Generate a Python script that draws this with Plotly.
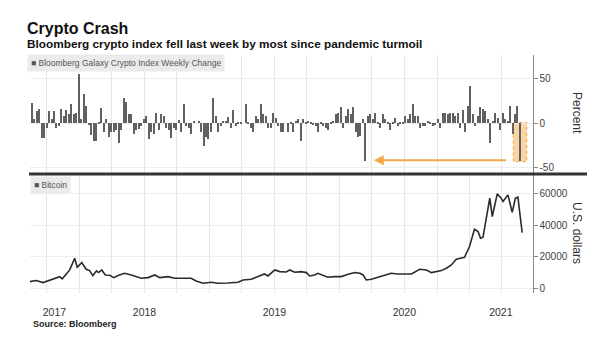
import pandas as pd
import plotly.graph_objects as go

# ---- Data ----
weekly_change = [
    23, 5, 14, 16, -16, -16, -5, 14, 5, 14,
    -5, -3, 16, 8, 15, 10, 22, 10, 12, 56,
    5, 33, 20, -2, -13, -20, -20, 1, 17, -10,
    5, -15, -10, -10, -8, -22, -8, 28, 24, 10,
    11, -12, -8, -6, -3, 5, 8, -18, -10, -12,
    12, -8, 10, 8, -5, -8, -17, -5, -8, 4,
    -10, 22, -3, -5, -12, 3, 0, 3, -10, -25,
    -15, -18, -10, 29, 8, -10, -3, 3, 3, 7,
    -5, 15, -3, 1, 1, 0, 22, 2, -5, -10,
    8, 5, 22, 10, 8, -5, -5, 12, 6, -3,
    -10, -10, 0, -10, 2, -10,
    3, 5, -20, 5, 2, 3, 1, -2, -3, -10,
    2, -3, -5, -8, 2, 3, 10, 12, 18, -5,
    8, 16, 10, 18, -10, -15, -14, 5,
    -42,
    8, 10, 5, 12, 2, -5, 10, 5, 2, -8,
    2, 6, -3, 2, 2, 8, 5,
    10, 22, 8, 8, -5, -3, -3, 3, 2,
    -3, -2, 5, -5, 12, 12, 10, 12, 12, 8,
    12, -5, 15, -10, 20, 42, 10, -3, 8,
    18, 16, 14, 5, -22, 3, 12, 6, -8, 12,
    5, 3, 19, -12, 10, 19, -42,
]
week_end = pd.date_range(end="2021-05-21", periods=len(weekly_change), freq="7D")

btc_dates = [
    "2017-08-14", "2017-09-01", "2017-09-20", "2017-10-04", "2017-10-23", "2017-11-06",
    "2017-11-13", "2017-11-20", "2017-12-04", "2017-12-18", "2017-12-25", "2018-01-07",
    "2018-01-19", "2018-01-29", "2018-02-07", "2018-02-17", "2018-02-23", "2018-03-04",
    "2018-03-14", "2018-03-26", "2018-04-07", "2018-04-19", "2018-05-07", "2018-05-26",
    "2018-06-23", "2018-07-12", "2018-07-31", "2018-08-14", "2018-09-06", "2018-09-25",
    "2018-10-23", "2018-11-10", "2018-11-24", "2018-12-13", "2019-01-06", "2019-01-24",
    "2019-02-21", "2019-03-22", "2019-04-05", "2019-04-28", "2019-05-17", "2019-06-04",
    "2019-06-14", "2019-07-03", "2019-07-17", "2019-08-04", "2019-08-14", "2019-08-28",
    "2019-09-15", "2019-09-30", "2019-10-09", "2019-10-23", "2019-11-01", "2019-11-15",
    "2019-11-29", "2019-12-18", "2020-01-06", "2020-01-25", "2020-02-13", "2020-02-27",
    "2020-03-07", "2020-03-16", "2020-03-30", "2020-04-18", "2020-05-07", "2020-05-25",
    "2020-06-13", "2020-07-02", "2020-07-21", "2020-08-13", "2020-09-01", "2020-09-15",
    "2020-09-29", "2020-10-13", "2020-10-27", "2020-11-10", "2020-11-24", "2020-12-08",
    "2020-12-17", "2020-12-31", "2021-01-14", "2021-01-24", "2021-01-31", "2021-02-07",
    "2021-02-26", "2021-03-05", "2021-03-19", "2021-03-30", "2021-04-04", "2021-04-18",
    "2021-04-30", "2021-05-09", "2021-05-16", "2021-05-28",
]
btc_price = [
    4240, 4900, 3600, 4660, 6360, 7400,
    6000, 7850, 11660, 19090, 13360, 16330,
    12090, 11240, 8060, 11030, 9970, 11660,
    8480, 8270, 6790, 8060, 9540, 8480,
    6360, 6790, 8480, 6790, 7420, 6360,
    6360, 6360, 4660, 3180, 3820, 3180,
    3390, 3820, 5300, 5730, 7420, 9120,
    7850, 11660, 10600, 10390, 11660, 10180,
    10600, 9970, 7850, 8480, 9540, 8480,
    7000, 7420, 7420, 8910, 9970, 9540,
    8480, 5300, 5730, 7000, 8480, 9540,
    9120, 8910, 9120, 12090, 11660, 9970,
    10600, 11240, 12730, 14850, 18450, 19090,
    19720, 26510, 37540, 36050, 31810, 32450,
    57260, 45600, 60020, 57260, 55140, 59380,
    48350, 57260, 57900, 35420,
]

year_labels = ["2017", "2018", "2019", "2020", "2021"]
year_label_dates = ["2017-10-22", "2018-07-02", "2019-07-02", "2020-07-01", "2021-03-29"]
pct_ticks = [-50, 0, 50]
usd_ticks = [0, 20000, 40000, 60000]

# ---- Layout geometry ----
W, H = 602, 352
def px_x(x):
    return x / W
def px_y(y):
    return (H - y) / H

x_range = ["2017-08-13", "2021-06-26"]
x_dom = [px_x(29.5), px_x(532.5)]
grid_c = "#e6e6e6"
font_main = "Liberation Sans, Arial, sans-serif"
font_narrow = "Liberation Sans Narrow, Arial Narrow, Liberation Sans, sans-serif"

fig = go.Figure()
fig.add_trace(go.Bar(
    x=week_end, y=weekly_change, xaxis="x", yaxis="y",
    marker=dict(color="#616161", line=dict(width=0)),
    width=4 * 86400000, showlegend=False,
))
fig.add_trace(go.Scatter(
    x=btc_dates, y=btc_price, xaxis="x2", yaxis="y2", mode="lines",
    line=dict(color="#2b2b2b", width=1.6), showlegend=False,
))

minor_grid = dict(tick0="2017-01-01", dtick="M3", showgrid=True,
                  gridcolor=grid_c, gridwidth=1, ticks="")

fig.update_layout(
    width=W, height=H,
    margin=dict(l=0, r=0, t=0, b=0),
    paper_bgcolor="white", plot_bgcolor="white",
    showlegend=False,
    bargap=0,
    xaxis=dict(domain=x_dom, anchor="y", type="date", range=x_range,
               showticklabels=False, showgrid=False, zeroline=False,
               ticks="", minor=minor_grid),
    yaxis=dict(domain=[px_y(173), px_y(55)], anchor="x", side="right",
               range=[-56, 77], tickvals=pct_ticks,
               ticktext=[str(v) for v in pct_ticks],
               showgrid=True, gridcolor="#ededed", zeroline=False,
               showline=True, linecolor="#888", linewidth=1,
               ticks="outside", ticklen=4, tickcolor="#888",
               tickfont=dict(family=font_main, size=10, color="#444")),
    xaxis2=dict(domain=x_dom, anchor="y2", type="date", range=x_range,
                tickvals=year_label_dates, ticktext=year_labels,
                showgrid=False, zeroline=False,
                ticks="outside", ticklen=9, tickcolor="rgba(0,0,0,0)",
                tickfont=dict(family=font_main, size=10.5, color="#333"),
                minor=minor_grid),
    yaxis2=dict(domain=[px_y(293), px_y(175)], anchor="x2", side="right",
                range=[-3000, 72000], tickvals=usd_ticks,
                ticktext=[str(v) for v in usd_ticks],
                showgrid=True, gridcolor="#ededed", zeroline=False,
                showline=True, linecolor="#888", linewidth=1,
                ticks="outside", ticklen=4, tickcolor="#888",
                tickfont=dict(family=font_main, size=10, color="#444")),
)

# separator line between panels
fig.add_shape(type="line", xref="paper", yref="paper",
              x0=px_x(29), x1=px_x(587), y0=px_y(174), y1=px_y(174),
              line=dict(color="#333", width=3))

# highlight box for last week's drop
fig.add_shape(type="rect", xref="x", yref="y", layer="below",
              x0="2021-05-03", x1="2021-06-10", y0=1, y1=-43,
              fillcolor="rgba(247,184,100,0.6)",
              line=dict(color="#f0a040", width=1, dash="dot"))

# arrow back to the pandemic drop
fig.add_annotation(xref="x", yref="y", axref="x", ayref="y",
                   x="2020-04-06", y=-41.5, ax="2021-04-17", ay=-41.5,
                   text="", showarrow=True, arrowhead=2, arrowsize=1,
                   arrowwidth=2, arrowcolor="#f5a94a")

annots = [
    dict(text="<b>Crypto Crash</b>", x=px_x(25), y=px_y(28), size=16, color="#111", fam=font_main),
    dict(text="<b>Bloomberg crypto index fell last week by most since pandemic turmoil</b>",
         x=px_x(25), y=px_y(44), size=11.8, color="#111", fam=font_main),
    dict(text="<b>Source: Bloomberg</b>", x=px_x(31), y=px_y(324), size=9, color="#222", fam=font_main),
]
for a in annots:
    fig.add_annotation(xref="paper", yref="paper", x=a["x"], y=a["y"],
                       xanchor="left", yanchor="middle", showarrow=False,
                       text=a["text"], font=dict(family=a["fam"], size=a["size"], color=a["color"]))

# legend boxes
fig.add_annotation(xref="paper", yref="paper", x=px_x(27), y=px_y(63),
                   xanchor="left", yanchor="middle", showarrow=False,
                   text="■ Bloomberg Galaxy Crypto Index Weekly Change",
                   bgcolor="#ebebeb", borderpad=3,
                   font=dict(family=font_narrow, size=8.5, color="#555"))
fig.add_annotation(xref="paper", yref="paper", x=px_x(30), y=px_y(185),
                   xanchor="left", yanchor="middle", showarrow=False,
                   text="■ Bitcoin", bgcolor="#ebebeb", borderpad=3,
                   font=dict(family=font_narrow, size=8.5, color="#555"))

# axis titles (rotated, reading top to bottom)
fig.add_annotation(xref="paper", yref="paper", x=px_x(577), y=px_y(113),
                   xanchor="center", yanchor="middle", showarrow=False,
                   text="Percent", textangle=90,
                   font=dict(family=font_main, size=12, color="#333"))
fig.add_annotation(xref="paper", yref="paper", x=px_x(577), y=px_y(233),
                   xanchor="center", yanchor="middle", showarrow=False,
                   text="U.S. dollars", textangle=90,
                   font=dict(family=font_main, size=12, color="#333"))

fig.write_html("out.html")
